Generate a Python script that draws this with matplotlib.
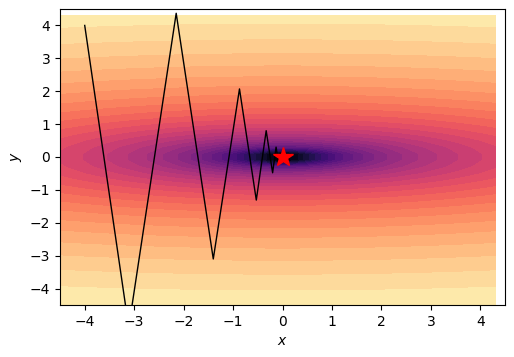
import numpy as np
import matplotlib
matplotlib.use("Agg")
import matplotlib.pyplot as plt

# trajectory
path_x = [-4.0, -3.11, -2.15, -1.40, -0.87, -0.53, -0.33, -0.20, -0.13, -0.08, -0.05, -0.03, -0.02]
path_y = [4.0, -5.18, 4.37, -3.10, 2.07, -1.31, 0.80, -0.48, 0.30, -0.18, 0.11, -0.06, 0.03]

# surface grid
grid_x = np.arange(-4.5, 4.5, 0.2)
grid_y = np.arange(-4.5, 4.5, 0.2)
coef_x = 0.1
coef_y = 2.0

X, Y = np.meshgrid(grid_x, grid_y)
Z = coef_x * X**2 + coef_y * Y**2

fig = plt.figure(figsize=(5.14, 3.57), dpi=100)
ax = fig.add_axes([60/514, 1-305/357, (505-60)/514, (305-9)/357])
ax.contourf(X, Y, np.log(Z), levels=30, cmap='magma')
ax.plot(path_x, path_y, color='black', lw=1)
ax.plot([0], [0], marker='*', color='red', markersize=15, linestyle='none')
ax.set_xlim(-4.5, 4.5)
ax.set_ylim(-4.5, 4.5)
ax.set_xlabel('$x$')
ax.set_ylabel('$y$')
fig.savefig('out.png', dpi=100)
